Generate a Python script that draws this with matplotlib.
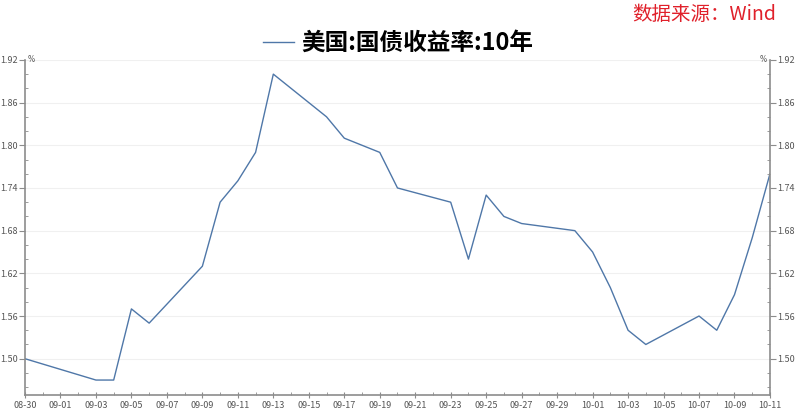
import matplotlib
matplotlib.use('Agg')
import matplotlib.pyplot as plt
import matplotlib.dates as mdates
from matplotlib.ticker import MultipleLocator, FixedLocator
from matplotlib.lines import Line2D
import pandas as pd

plt.rcParams['font.family'] = ['Noto Sans CJK SC', 'DejaVu Sans']

dates = ['2019-08-30', '2019-09-03', '2019-09-04', '2019-09-05', '2019-09-06',
         '2019-09-09', '2019-09-10', '2019-09-11', '2019-09-12', '2019-09-13',
         '2019-09-16', '2019-09-17', '2019-09-18', '2019-09-19', '2019-09-20',
         '2019-09-23', '2019-09-24', '2019-09-25', '2019-09-26', '2019-09-27',
         '2019-09-30', '2019-10-01', '2019-10-02', '2019-10-03', '2019-10-04',
         '2019-10-07', '2019-10-08', '2019-10-09', '2019-10-10', '2019-10-11']
yields = [1.50, 1.47, 1.47, 1.57, 1.55,
          1.63, 1.72, 1.75, 1.79, 1.90,
          1.84, 1.81, 1.80, 1.79, 1.74,
          1.72, 1.64, 1.73, 1.70, 1.69,
          1.68, 1.65, 1.60, 1.54, 1.52,
          1.56, 1.54, 1.59, 1.67, 1.76]
y_ticks = [1.50, 1.56, 1.62, 1.68, 1.74, 1.80, 1.86, 1.92]
title = '美国:国债收益率:10年'
source = '数据来源：Wind'

x = pd.to_datetime(dates)
line_color = '#4f77a8'
tick_color = '#555555'
spine_color = '#8c8c8c'

fig = plt.figure(figsize=(7.96, 4.16), dpi=100)
ax = fig.add_axes([0.0314, 0.0505, 0.9359, 0.8055])
ax.plot(x, yields, color=line_color, lw=1.0)

ax.set_xlim(pd.Timestamp('2019-08-30'), pd.Timestamp('2019-10-11'))
ax.set_ylim(1.449, 1.92)

ax.yaxis.set_major_locator(FixedLocator(y_ticks))
ax.yaxis.set_minor_locator(MultipleLocator(0.02))
ax.yaxis.set_major_formatter(plt.FuncFormatter(lambda v, p: f'{v:.2f}'))
ax.grid(axis='y', color='#f0f0f0', lw=0.8)
ax.set_axisbelow(True)

# label every second day, small tick every day
major_days = pd.date_range('2019-08-30', '2019-10-11', freq='2D')
ax.xaxis.set_major_locator(FixedLocator(mdates.date2num(major_days)))
ax.xaxis.set_minor_locator(FixedLocator(mdates.date2num(pd.date_range('2019-08-30', '2019-10-11', freq='D'))))
ax.set_xticklabels([d.strftime('%m-%d') for d in major_days])
for lbl, d in zip(ax.get_xticklabels(), major_days):
    if d.day == 1 and d.month == 9:
        lbl.set_color('#222222')

for side in ['top', 'right']:
    ax.spines[side].set_visible(False)
for side in ['left', 'bottom']:
    ax.spines[side].set_color(spine_color)
    ax.spines[side].set_linewidth(1.2)

ax.tick_params(axis='x', which='major', direction='inout', length=5, color=spine_color,
               labelsize=6.5, labelcolor=tick_color, pad=2)
ax.tick_params(axis='x', which='minor', direction='in', length=2.5, color=spine_color)
ax.tick_params(axis='y', which='major', direction='out', length=4, color=spine_color,
               labelsize=6.5, labelcolor=tick_color, pad=1)
ax.tick_params(axis='y', which='minor', direction='in', length=2.5, color=spine_color)

ax2 = ax.twinx()
ax2.set_ylim(ax.get_ylim())
ax2.yaxis.set_major_locator(FixedLocator(y_ticks))
ax2.yaxis.set_minor_locator(MultipleLocator(0.02))
ax2.yaxis.set_major_formatter(plt.FuncFormatter(lambda v, p: f'{v:.2f}'))
for side in ['top', 'left', 'bottom']:
    ax2.spines[side].set_visible(False)
ax2.spines['right'].set_color(spine_color)
ax2.spines['right'].set_linewidth(1.2)
ax2.tick_params(axis='y', which='major', direction='out', length=4, color=spine_color,
                labelsize=6.5, labelcolor=tick_color, pad=1)
ax2.tick_params(axis='y', which='minor', direction='in', length=2.5, color=spine_color)

ax.text(0.004, 1.0, '%', transform=ax.transAxes, fontsize=5.5, color=tick_color,
        va='center', ha='left', family='DejaVu Sans')
ax.text(0.996, 1.0, '%', transform=ax.transAxes, fontsize=5.5, color=tick_color,
        va='center', ha='right', family='DejaVu Sans')

handle = Line2D([], [], color=line_color, lw=1.0)
fig.legend([handle], [title], loc='center', bbox_to_anchor=(0.5, 0.897), frameon=False,
           handlelength=1.3, handletextpad=0.3,
           prop={'family': 'Noto Sans CJK SC', 'weight': 'bold', 'size': 17})

fig.text(0.975, 0.965, source, ha='right', va='center', color='#e0202a',
         fontsize=14, style='italic')

fig.savefig('out.png', dpi=100)
